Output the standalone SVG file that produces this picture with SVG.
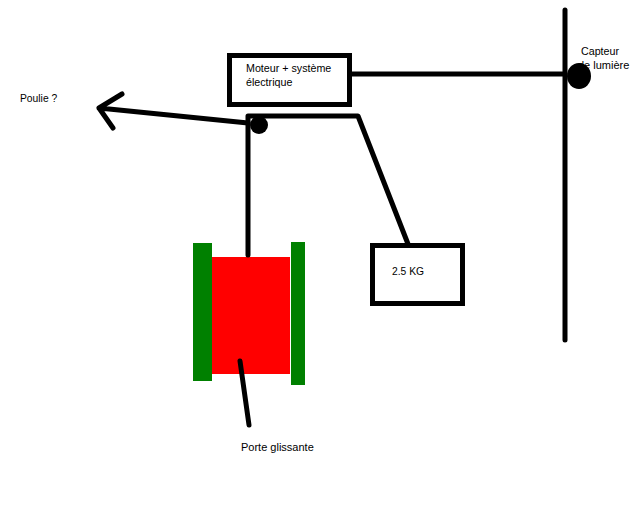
<svg xmlns="http://www.w3.org/2000/svg" width="640" height="512" viewBox="0 0 640 512">
<style>
.l{fill:none;stroke:#000;stroke-width:5;stroke-linecap:round;stroke-linejoin:round}
.b{fill:#fff;stroke:#000;stroke-width:5}
.g{fill:#008000}
.t{font-family:"Liberation Sans",Arial,sans-serif;font-size:10.700px;fill:#000}
</style>
<rect width="640" height="512" fill="#fff"/>
<g id="door">
<rect class="g" x="193" y="243" width="19" height="138"/>
<rect x="212" y="257" width="78" height="117" fill="#f00"/>
<rect class="g" x="291" y="242" width="14" height="143"/>
</g>
<g id="connectors">
<path class="l" d="M565 10V340"/>
<path class="l" d="M350 74H565"/>
<path class="l" d="M248 255V116H358L408 244"/>
<path class="l" d="M248 123L99 108M122 94L99 108L113 128"/>
<path class="l" d="M240 361L249 425"/>
</g>
<g id="motor">
<rect class="b" x="229.500" y="55.500" width="120" height="49"/>
<text class="t" x="246" y="72">Moteur + système</text>
<text class="t" x="246" y="86">électrique</text>
</g>
<g id="sensor">
<ellipse cx="579" cy="76" rx="12" ry="13"/>
<text class="t" x="581" y="55">Capteur</text>
<text class="t" x="578" y="69" style="font-size:11px">de lumière</text>
</g>
<g id="pulley">
<circle cx="259" cy="125" r="9"/>
<text class="t" x="20" y="102" style="font-size:10.300px">Poulie ?</text>
</g>
<g id="weight">
<rect class="b" x="372.500" y="245.500" width="90" height="58"/>
<text class="t" x="392" y="275" style="font-size:10.300px">2.5 KG</text>
</g>
<g id="door-label">
<text class="t" x="241" y="451" style="font-size:11px">Porte glissante</text>
</g>
</svg>
